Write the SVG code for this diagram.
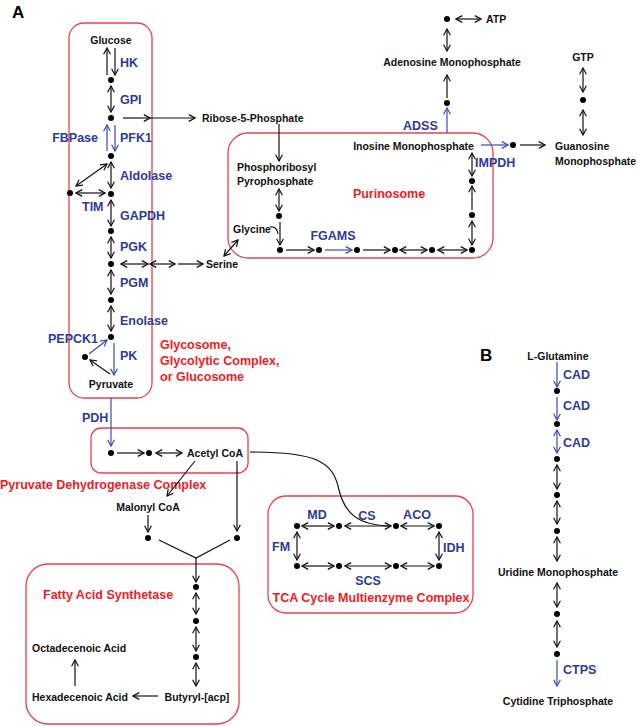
<svg xmlns="http://www.w3.org/2000/svg" width="637" height="726" viewBox="0 0 637 726">
<defs>
<style>
text{font-family:"Liberation Sans",Arial,sans-serif;font-weight:bold;font-size:10.5px;fill:#111}
.e{font-size:12.5px;fill:#2e3a9a}
.r{font-size:12.5px;fill:#ee1c25}
.h{font-size:17px;fill:#000}
.m{text-anchor:middle}
.n{text-anchor:end}
.box{fill:none;stroke:#e8414b;stroke-width:1.3}
.c path,.c line{fill:none;stroke:#111;stroke-width:1.2}
.c .b{stroke:#3a4ab0}
.s{marker-end:url(#a)}
.d{marker-start:url(#a);marker-end:url(#a)}
.bs{marker-end:url(#ab)}
.bd{marker-start:url(#ab);marker-end:url(#ab)}
.dot{fill:#000}
</style>
<marker id="a" viewBox="0 0 8 8" refX="7.2" refY="4" markerWidth="8" markerHeight="8" markerUnits="userSpaceOnUse" orient="auto-start-reverse"><path d="M1,0.6 L7.2,4 L1,7.4" fill="none" stroke="#111" stroke-width="1.2"/></marker>
<marker id="ab" viewBox="0 0 8 8" refX="7.2" refY="4" markerWidth="8" markerHeight="8" markerUnits="userSpaceOnUse" orient="auto-start-reverse"><path d="M1,0.6 L7.2,4 L1,7.4" fill="none" stroke="#3a4ab0" stroke-width="1.2"/></marker>
</defs>
<rect width="637" height="726" fill="#fff"/>

<text class="h" x="12" y="18">A</text>
<text class="h" x="480" y="361">B</text>

<g id="glycosome">
<rect class="box" x="69" y="23" width="83" height="375" rx="15"/>
<text class="r" x="160" y="348.5">Glycosome,</text>
<text class="r" x="160" y="364.5">Glycolytic Complex,</text>
<text class="r" x="160" y="380.5">or Glucosome</text>
</g>
<g id="purinosome">
<rect class="box" x="228" y="133" width="265" height="125" rx="20"/>
<text class="r m" x="389" y="197.5">Purinosome</text>
</g>
<g id="pdh-complex">
<rect class="box" x="91" y="428" width="157" height="45" rx="10"/>
<text class="r" x="0" y="488.5">Pyruvate Dehydrogenase Complex</text>
</g>
<g id="tca-complex">
<rect class="box" x="268" y="496" width="205" height="117" rx="18"/>
<text class="r m" x="371" y="601.5">TCA Cycle Multienzyme Complex</text>
</g>
<g id="fas">
<rect class="box" x="26" y="564" width="213" height="160" rx="22"/>
<text class="r" x="43" y="598.5">Fatty Acid Synthetase</text>
</g>

<g id="connectors" class="c">
<line class="s" x1="107" y1="75" x2="107" y2="48"/>
<line class="s" x1="115" y1="48" x2="115" y2="75"/>
<line class="d" x1="111" y1="86" x2="111" y2="112"/>
<line class="s" x1="123" y1="118" x2="150" y2="118"/>
<line class="s" x1="150" y1="118" x2="195" y2="118"/>
<line class="b bs" x1="107" y1="151" x2="107" y2="125"/>
<line class="b bs" x1="115" y1="125" x2="115" y2="151"/>
<line class="d" x1="111" y1="162" x2="111" y2="188"/>
<line class="d" x1="76" y1="193" x2="105" y2="193"/>
<line class="d" x1="76" y1="186" x2="107" y2="164"/>
<line class="d" x1="111" y1="200" x2="111" y2="226"/>
<line class="d" x1="111" y1="237" x2="111" y2="258"/>
<line class="d" x1="121" y1="264" x2="148" y2="264"/>
<line class="d" x1="150" y1="264" x2="175" y2="264"/>
<line class="s" x1="178" y1="264" x2="203" y2="264"/>
<line class="d" x1="111" y1="270" x2="111" y2="294"/>
<line class="d" x1="111" y1="306" x2="111" y2="331"/>
<line class="b bs" x1="114" y1="343" x2="114" y2="375"/>
<line class="b bs" x1="89" y1="354" x2="107" y2="340"/>
<line class="s" x1="110" y1="374" x2="90" y2="360"/>
<line class="s" x1="279" y1="124" x2="279" y2="161"/>
<line class="d" x1="279" y1="189" x2="279" y2="211"/>
<line class="s" x1="280" y1="222" x2="280" y2="245"/>
<path d="M270,227 Q277,226 278,234"/>
<line class="d" x1="224" y1="256" x2="238" y2="240"/>
<line class="s" x1="286" y1="250" x2="314" y2="250"/>
<line class="b bs" x1="325" y1="250" x2="352" y2="250"/>
<line class="s" x1="363" y1="250" x2="390" y2="250"/>
<line class="d" x1="400" y1="250" x2="427" y2="250"/>
<line class="d" x1="438" y1="250" x2="467" y2="250"/>
<line class="d" x1="472" y1="221" x2="472" y2="245"/>
<line class="s" x1="472" y1="210" x2="472" y2="186"/>
<line class="d" x1="472" y1="153" x2="472" y2="176"/>
<line class="b bs" x1="447" y1="133" x2="447" y2="108"/>
<line class="s" x1="447" y1="98" x2="447" y2="75"/>
<line class="d" x1="447" y1="29" x2="447" y2="51"/>
<line class="d" x1="456" y1="19" x2="481" y2="19"/>
<line class="b bs" x1="481" y1="145" x2="508" y2="145"/>
<line class="s" x1="520" y1="145" x2="545" y2="145"/>
<line class="d" x1="583" y1="68" x2="583" y2="92"/>
<line class="d" x1="583" y1="110" x2="583" y2="135"/>
<line class="b bs" x1="111" y1="398" x2="111" y2="446"/>
<line class="s" x1="117" y1="453" x2="144" y2="453"/>
<line class="d" x1="156" y1="453" x2="182" y2="453"/>
<line class="s" x1="195" y1="461" x2="167" y2="496"/>
<line class="s" x1="148" y1="515" x2="148" y2="532"/>
<line class="s" x1="237" y1="461" x2="237" y2="531"/>
<path d="M159,540 L196,558 L230,540"/>
<line class="s" x1="196" y1="558" x2="196" y2="582"/>
<line class="d" x1="196" y1="593" x2="196" y2="614"/>
<line class="d" x1="196" y1="627" x2="196" y2="651"/>
<line class="d" x1="196" y1="663" x2="196" y2="686"/>
<line class="s" x1="158" y1="696" x2="133" y2="696"/>
<line class="s" x1="75" y1="686" x2="75" y2="660"/>
<path d="M250,452 C318,452 333,462 339,490 C345,514 358,525 390,526"/>
<line class="d" x1="302" y1="526" x2="334" y2="526"/>
<line class="d" x1="345" y1="526" x2="391" y2="526"/>
<line class="d" x1="401" y1="526" x2="434" y2="526"/>
<line class="d" x1="302" y1="566" x2="334" y2="566"/>
<line class="d" x1="345" y1="566" x2="391" y2="566"/>
<line class="d" x1="401" y1="566" x2="434" y2="566"/>
<line class="d" x1="297" y1="532" x2="297" y2="560"/>
<line class="d" x1="439" y1="532" x2="439" y2="560"/>
<line class="b bs" x1="557" y1="362" x2="557" y2="387"/>
<line class="b bs" x1="557" y1="397" x2="557" y2="420"/>
<line class="b bd" x1="557" y1="430" x2="557" y2="453"/>
<line class="d" x1="557" y1="465" x2="557" y2="489"/>
<line class="d" x1="557" y1="501" x2="557" y2="524"/>
<line class="d" x1="557" y1="537" x2="557" y2="561"/>
<line class="d" x1="557" y1="583" x2="557" y2="607"/>
<line class="d" x1="557" y1="621" x2="557" y2="647"/>
<line class="b bs" x1="557" y1="660" x2="557" y2="686"/>
</g>

<g id="junctions" class="dot">
<circle cx="111" cy="80" r="3"/><circle cx="111" cy="118" r="3"/><circle cx="111" cy="156" r="3"/>
<circle cx="111" cy="194" r="3"/><circle cx="70" cy="193" r="3"/><circle cx="111" cy="231" r="3"/>
<circle cx="111" cy="264" r="3"/><circle cx="111" cy="300" r="3"/><circle cx="111" cy="337" r="3"/>
<circle cx="85" cy="357" r="3"/>
<circle cx="279" cy="216" r="3"/><circle cx="280" cy="250" r="3"/><circle cx="319" cy="250" r="3"/>
<circle cx="357" cy="250" r="3"/><circle cx="395" cy="250" r="3"/><circle cx="432" cy="250" r="3"/>
<circle cx="472" cy="250" r="3"/><circle cx="472" cy="215" r="3"/><circle cx="472" cy="181" r="3"/>
<circle cx="447" cy="103" r="3"/><circle cx="447" cy="19" r="3"/><circle cx="513" cy="145" r="3"/>
<circle cx="583" cy="100" r="3"/>
<circle cx="111" cy="453" r="3"/><circle cx="149" cy="453" r="3"/>
<circle cx="148" cy="538" r="3"/><circle cx="237" cy="538" r="3"/>
<circle cx="196" cy="587" r="3"/><circle cx="196" cy="621" r="3"/><circle cx="196" cy="657" r="3"/>
<circle cx="297" cy="526" r="3"/><circle cx="339" cy="526" r="3"/><circle cx="396" cy="526" r="3"/><circle cx="439" cy="526" r="3"/>
<circle cx="297" cy="566" r="3"/><circle cx="339" cy="566" r="3"/><circle cx="396" cy="566" r="3"/><circle cx="439" cy="566" r="3"/>
<circle cx="557" cy="391" r="3"/><circle cx="557" cy="424" r="3"/><circle cx="557" cy="459" r="3"/>
<circle cx="557" cy="495" r="3"/><circle cx="557" cy="531" r="3"/><circle cx="557" cy="614" r="3"/>
<circle cx="557" cy="654" r="3"/>
</g>

<g id="metabolites">
<g id="glucose"><text class="m" x="111" y="43.8">Glucose</text></g>
<g id="ribose5p"><text x="202" y="121.8">Ribose-5-Phosphate</text></g>
<g id="serine"><text x="206" y="267.8">Serine</text></g>
<g id="pyruvate"><text class="m" x="111" y="387.8">Pyruvate</text></g>
<g id="prpp"><text x="237" y="170.8">Phosphoribosyl</text><text x="237" y="184.8">Pyrophosphate</text></g>
<g id="glycine"><text x="233" y="232.8">Glycine</text></g>
<g id="imp"><text class="m" x="413.5" y="149.8">Inosine Monophosphate</text></g>
<g id="amp"><text class="m" x="452" y="65.8">Adenosine Monophosphate</text></g>
<g id="atp"><text x="486" y="22.8">ATP</text></g>
<g id="gtp"><text class="m" x="583" y="60.8">GTP</text></g>
<g id="gmp"><text x="555" y="149.8">Guanosine</text><text x="555" y="164.8">Monophosphate</text></g>
<g id="acetylcoa"><text class="m" x="215" y="456.8">Acetyl CoA</text></g>
<g id="malonylcoa"><text class="m" x="148" y="510.8">Malonyl CoA</text></g>
<g id="butyryl"><text class="m" x="197" y="700.8">Butyryl-[acp]</text></g>
<g id="hexadecenoic"><text x="32" y="700.8">Hexadecenoic Acid</text></g>
<g id="octadecenoic"><text x="32" y="651.8">Octadecenoic Acid</text></g>
<g id="glutamine"><text class="m" x="558" y="359.8">L-Glutamine</text></g>
<g id="ump"><text class="m" x="558" y="575.8">Uridine Monophosphate</text></g>
<g id="ctp"><text class="m" x="558" y="704.8">Cytidine Triphosphate</text></g>
</g>

<g id="enzymes">
<text class="e" x="120" y="66.5">HK</text>
<text class="e" x="120" y="103.5">GPI</text>
<text class="e n" x="98" y="141.5">FBPase</text>
<text class="e" x="120" y="141.5">PFK1</text>
<text class="e" x="120" y="179.5">Aldolase</text>
<text class="e" x="82" y="210.5">TIM</text>
<text class="e" x="120" y="219.5">GAPDH</text>
<text class="e" x="120" y="250.5">PGK</text>
<text class="e" x="120" y="286.5">PGM</text>
<text class="e" x="120" y="324.5">Enolase</text>
<text class="e n" x="98" y="342.5">PEPCK1</text>
<text class="e" x="120" y="359.5">PK</text>
<text class="e m" x="333" y="239.5">FGAMS</text>
<text class="e" x="475" y="166.5">IMPDH</text>
<text class="e" x="403" y="129.5">ADSS</text>
<text class="e" x="82" y="421.5">PDH</text>
<text class="e m" x="317" y="518.5">MD</text>
<text class="e m" x="367" y="519.5">CS</text>
<text class="e m" x="417" y="518.5">ACO</text>
<text class="e" x="272" y="550.5">FM</text>
<text class="e" x="443" y="551.5">IDH</text>
<text class="e m" x="368" y="584.5">SCS</text>
<text class="e" x="563" y="378.5">CAD</text>
<text class="e" x="563" y="409.5">CAD</text>
<text class="e" x="563" y="446.5">CAD</text>
<text class="e" x="563" y="673.5">CTPS</text>
</g>
</svg>
